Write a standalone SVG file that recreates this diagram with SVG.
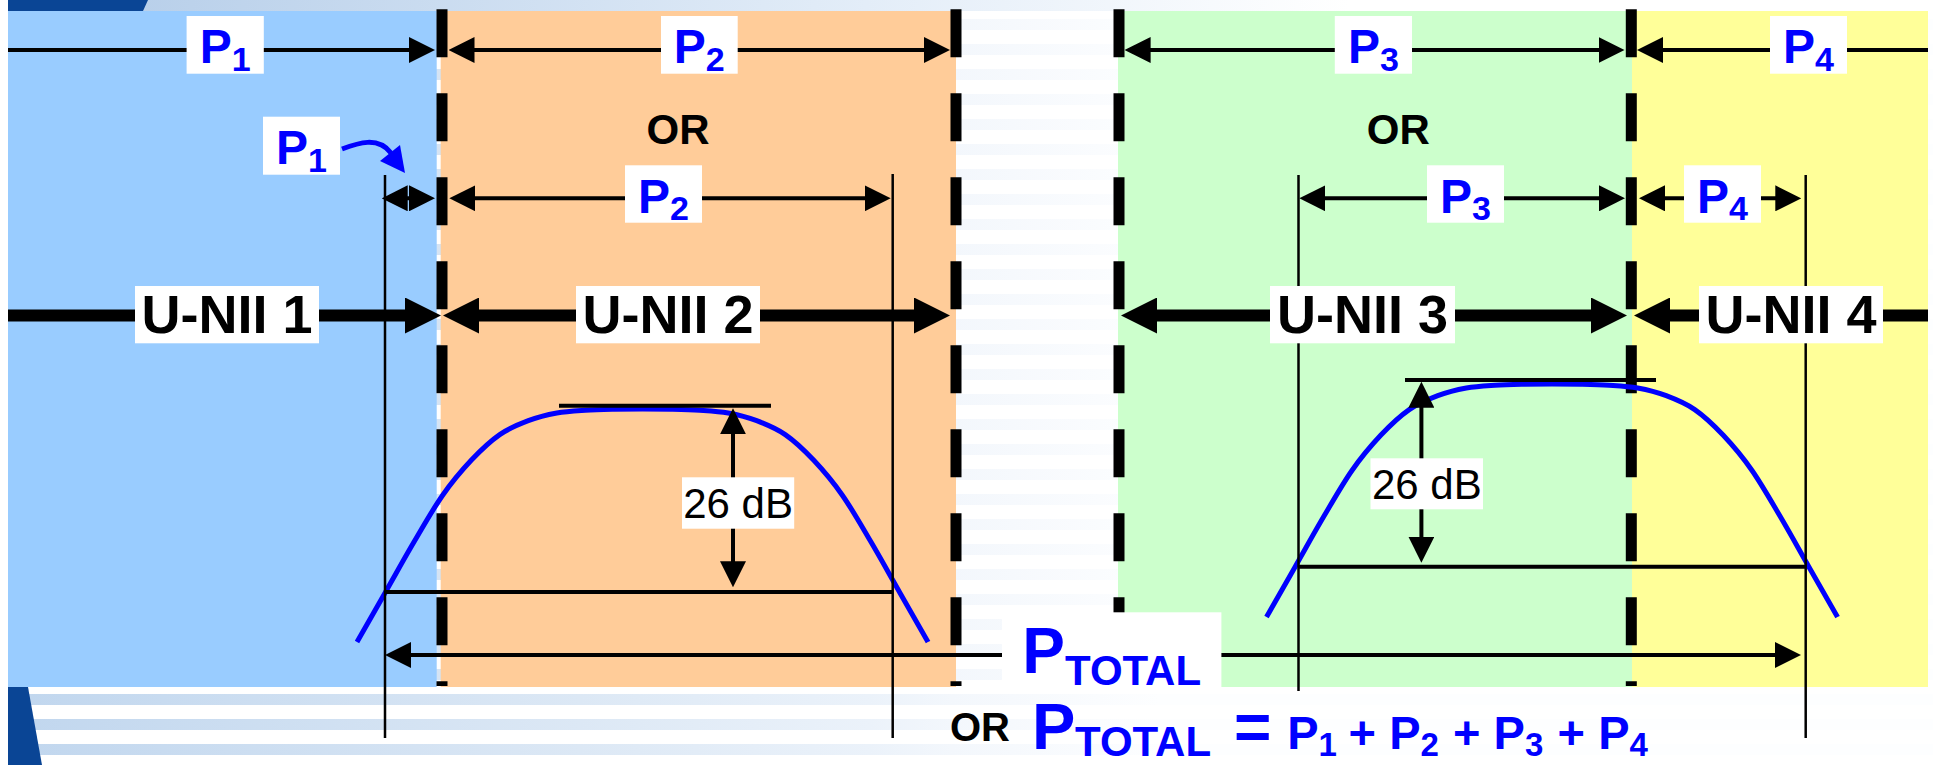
<svg xmlns="http://www.w3.org/2000/svg" width="1933" height="765" viewBox="0 0 1933 765">
<defs>
<style>
.lbl{font-family:"Liberation Sans",Arial,Helvetica,sans-serif;font-weight:bold;fill:#000}
.reg{font-family:"Liberation Sans",Arial,Helvetica,sans-serif;font-weight:normal;fill:#000}
.blue{fill:#0000FF}
.box{fill:#FFFFFF}
.thin{stroke:#000;stroke-width:4;fill:none}
.thick{stroke:#000;stroke-width:12;fill:none}
.ext{stroke:#000;stroke-width:2.5;fill:none}
.div{stroke:#000;stroke-width:11;stroke-dasharray:48 36;fill:none}
.curve{stroke:#0000FF;stroke-width:5;fill:none}
</style>
<marker id="a" viewBox="0 0 26 26" refX="16" refY="13" markerWidth="26" markerHeight="26" markerUnits="userSpaceOnUse" orient="auto-start-reverse"><path d="M0,0L26,13L0,26z" fill="#000"/></marker>
<marker id="A" viewBox="0 0 36 36" refX="22" refY="18" markerWidth="36" markerHeight="36" markerUnits="userSpaceOnUse" orient="auto-start-reverse"><path d="M0,0L36,18L0,36z" fill="#000"/></marker>
<linearGradient id="topg" gradientUnits="userSpaceOnUse" x1="140" y1="0" x2="1350" y2="0">
<stop offset="0" stop-color="#b9d0ea"/><stop offset="0.6" stop-color="#e3edf8"/><stop offset="1" stop-color="#ffffff"/>
</linearGradient>
<linearGradient id="strg" gradientUnits="userSpaceOnUse" x1="0" y1="0" x2="1160" y2="0">
<stop offset="0" stop-color="#c0d6ee"/><stop offset="0.5" stop-color="#dce8f5"/><stop offset="0.75" stop-color="#ebf2fa"/><stop offset="0.82" stop-color="#f3f7fc"/><stop offset="1" stop-color="#fdfeff"/>
</linearGradient>
<pattern id="stripes" patternUnits="userSpaceOnUse" x="0" y="19" width="1933" height="25">
<rect x="0" y="0" width="1933" height="11" fill="url(#strg)"/>
</pattern>
<path id="mask" d="M357,642 C366.5,625.3 376,608.6 385.55,591.9 C395.1,575.2 404.6,557.9 414.1,541.8 C423.6,525.7 433.1,508.8 442.65,495.2 C452.2,481.6 461.7,470.4 471.2,460.3 C480.7,450.2 490.2,441.2 499.75,434.6 C509.3,428 518.8,424.3 528.3,420.7 C537.8,417.1 547.3,414.75 556.85,413 C566.4,411.25 575.9,410.83 585.4,410.2 C594.9,409.57 604.4,409.4 613.95,409.2 C623.5,409 633,409 642.5,409 C652,409 661.5,409 671.05,409.2 C680.6,409.4 690.1,409.57 699.6,410.2 C709.1,410.83 718.6,411.25 728.15,413 C737.7,414.75 747.2,417.1 756.7,420.7 C766.2,424.3 775.7,428 785.25,434.6 C794.8,441.2 804.3,450.2 813.8,460.3 C823.3,470.4 832.8,481.6 842.35,495.2 C851.9,508.8 861.4,525.7 870.9,541.8 C880.4,557.9 889.9,575.2 899.45,591.9 C909,608.6 918.5,625.3 928,642"/>
</defs>

<g id="background">
<rect x="0" y="0" width="1933" height="765" fill="#FFFFFF"/>
<rect x="0" y="0" width="1933" height="765" fill="url(#stripes)"/>
<rect x="8" y="0" width="1925" height="11" fill="url(#topg)"/>
<polygon points="8,0 148,0 143,11 8,11" fill="#0a4595"/>
<polygon points="8,687 28,687 42,765 8,765" fill="#0a4595"/>
<rect x="0" y="0" width="8" height="765" fill="#FFFFFF"/>
</g>

<g id="bands">
<rect x="8" y="11" width="428.7" height="676" fill="#99CCFF"/>
<rect x="440.7" y="11" width="515.3" height="676" fill="#FFCC99"/>
<rect x="1118" y="11" width="514" height="676" fill="#CCFFCC"/>
<rect x="1632" y="11" width="296" height="676" fill="#FFFF99"/>
</g>

<g id="band-edges">
<line class="div" x1="442" y1="9.3" x2="442" y2="686"/>
<line class="div" x1="956" y1="9.3" x2="956" y2="686"/>
<line class="div" x1="1119" y1="9.3" x2="1119" y2="686"/>
<line class="div" x1="1631.3" y1="9.3" x2="1631.3" y2="686"/>
</g>

<g id="spectrum">
<use href="#mask" class="curve"/>
<use href="#mask" class="curve" transform="translate(909.5,-25)"/>
</g>

<g id="connectors">
<line class="ext" x1="385" y1="175" x2="385" y2="738"/>
<line class="ext" x1="892.7" y1="174" x2="892.7" y2="738"/>
<line class="ext" x1="1298.5" y1="175" x2="1298.5" y2="691"/>
<line class="ext" x1="1805.7" y1="175" x2="1805.7" y2="738"/>
<line class="thin" x1="559" y1="405.7" x2="771" y2="405.7"/>
<line class="thin" x1="385" y1="592" x2="892.7" y2="592"/>
<line class="thin" x1="1405" y1="380" x2="1656" y2="380"/>
<line class="thin" x1="1298.5" y1="566.7" x2="1805.7" y2="566.7"/>
<line class="thin" x1="8" y1="50" x2="425" y2="50" marker-end="url(#a)"/>
<line class="thin" x1="458.5" y1="50" x2="940" y2="50" marker-start="url(#a)" marker-end="url(#a)"/>
<line class="thin" x1="1134.6" y1="50" x2="1614.5" y2="50" marker-start="url(#a)" marker-end="url(#a)"/>
<line class="thin" x1="1647" y1="50" x2="1928" y2="50" marker-start="url(#a)"/>
<line class="thin" x1="391.7" y1="198.3" x2="425" y2="198.3" marker-start="url(#a)" marker-end="url(#a)"/>
<line class="thin" x1="459.3" y1="198.3" x2="880.7" y2="198.3" marker-start="url(#a)" marker-end="url(#a)"/>
<line class="thin" x1="1309.3" y1="198.3" x2="1615" y2="198.3" marker-start="url(#a)" marker-end="url(#a)"/>
<line class="thin" x1="1649" y1="198.3" x2="1791.3" y2="198.3" marker-start="url(#a)" marker-end="url(#a)"/>
<line class="thick" x1="8" y1="315.5" x2="427" y2="315.5" marker-end="url(#A)"/>
<line class="thick" x1="457" y1="315.5" x2="936" y2="315.5" marker-start="url(#A)" marker-end="url(#A)"/>
<line class="thick" x1="1135" y1="315.5" x2="1613" y2="315.5" marker-start="url(#A)" marker-end="url(#A)"/>
<line class="thick" x1="1648" y1="315.5" x2="1928" y2="315.5" marker-start="url(#A)"/>
<line class="thin" x1="733" y1="418.3" x2="733" y2="577.3" marker-start="url(#a)" marker-end="url(#a)"/>
<line class="thin" x1="1421.4" y1="391.7" x2="1421.4" y2="552.7" marker-start="url(#a)" marker-end="url(#a)"/>
<line class="thin" x1="395" y1="655" x2="1791" y2="655" marker-start="url(#a)" marker-end="url(#a)"/>
<path d="M342,149 C358,143 378,136 391,153" stroke="#0000FF" stroke-width="5" fill="none"/>
<polygon points="405,173 380,161 400,145" fill="#0000FF"/>
</g>

<g id="p1-top"><rect class="box" x="186.6" y="16" width="77.2" height="57.7"/><text class="lbl blue" x="225.2" y="63.3" text-anchor="middle" font-size="48">P<tspan font-size="34" dy="7.7">1</tspan></text></g>
<g id="p2-top"><rect class="box" x="661" y="16" width="76.7" height="57.7"/><text class="lbl blue" x="699.3" y="63.3" text-anchor="middle" font-size="48">P<tspan font-size="34" dy="7.7">2</tspan></text></g>
<g id="p3-top"><rect class="box" x="1334.8" y="16" width="77.2" height="57.7"/><text class="lbl blue" x="1373.4" y="63.3" text-anchor="middle" font-size="48">P<tspan font-size="34" dy="7.7">3</tspan></text></g>
<g id="p4-top"><rect class="box" x="1770" y="16" width="77" height="57.7"/><text class="lbl blue" x="1808.5" y="63.3" text-anchor="middle" font-size="48">P<tspan font-size="34" dy="7.7">4</tspan></text></g>

<g id="or-left"><text class="lbl" x="678" y="144" text-anchor="middle" font-size="42">OR</text></g>
<g id="or-right"><text class="lbl" x="1398.3" y="144" text-anchor="middle" font-size="42">OR</text></g>

<g id="p1-mid"><rect class="box" x="263" y="116.7" width="77" height="58"/><text class="lbl blue" x="301.5" y="164" text-anchor="middle" font-size="48">P<tspan font-size="34" dy="7.7">1</tspan></text></g>
<g id="p2-mid"><rect class="box" x="625" y="165.3" width="77" height="57.4"/><text class="lbl blue" x="663.5" y="212.6" text-anchor="middle" font-size="48">P<tspan font-size="34" dy="7.7">2</tspan></text></g>
<g id="p3-mid"><rect class="box" x="1427" y="165.3" width="77" height="57.4"/><text class="lbl blue" x="1465.5" y="212.6" text-anchor="middle" font-size="48">P<tspan font-size="34" dy="7.7">3</tspan></text></g>
<g id="p4-mid"><rect class="box" x="1684" y="165.3" width="77" height="57.4"/><text class="lbl blue" x="1722.5" y="212.6" text-anchor="middle" font-size="48">P<tspan font-size="34" dy="7.7">4</tspan></text></g>

<g id="unii-1"><rect class="box" x="135" y="286" width="184" height="57.3"/><text class="lbl" x="227" y="333" text-anchor="middle" font-size="54">U-NII 1</text></g>
<g id="unii-2"><rect class="box" x="576" y="286" width="184" height="57.3"/><text class="lbl" x="668" y="333" text-anchor="middle" font-size="54">U-NII 2</text></g>
<g id="unii-3"><rect class="box" x="1270" y="286" width="185" height="57.3"/><text class="lbl" x="1362.5" y="333" text-anchor="middle" font-size="54">U-NII 3</text></g>
<g id="unii-4"><rect class="box" x="1699" y="286" width="184" height="57.3"/><text class="lbl" x="1791" y="333" text-anchor="middle" font-size="54">U-NII 4</text></g>

<g id="db-left"><rect class="box" x="682" y="477.3" width="112.2" height="51.4"/><text class="reg" x="738.1" y="518.3" text-anchor="middle" font-size="42">26 dB</text></g>
<g id="db-right"><rect class="box" x="1370.5" y="458.3" width="112.5" height="51"/><text class="reg" x="1426.8" y="499.3" text-anchor="middle" font-size="42">26 dB</text></g>

<g id="ptotal"><rect class="box" x="1002" y="612.3" width="219.4" height="78"/><text class="lbl blue" x="1111.7" y="673.3" text-anchor="middle" font-size="64">P<tspan font-size="42" dy="11.7">TOTAL</tspan></text></g>

<g id="formula">
<text class="lbl" x="980" y="741" text-anchor="middle" font-size="40">OR</text>
<text class="lbl blue" y="749"><tspan x="1032" y="749" font-size="65">P</tspan><tspan x="1075" y="756" font-size="42">TOTAL</tspan><tspan x="1234" y="749" font-size="64">=</tspan><tspan x="1287.3" y="749" font-size="47">P</tspan><tspan x="1318.6" y="756" font-size="33">1</tspan><tspan x="1348.4" y="749" font-size="47">+</tspan><tspan x="1389.3" y="749" font-size="47">P</tspan><tspan x="1420.6" y="756" font-size="33">2</tspan><tspan x="1453" y="749" font-size="47">+</tspan><tspan x="1493.6" y="749" font-size="47">P</tspan><tspan x="1524.9" y="756" font-size="33">3</tspan><tspan x="1557.4" y="749" font-size="47">+</tspan><tspan x="1598.3" y="749" font-size="47">P</tspan><tspan x="1629.6" y="756" font-size="33">4</tspan></text>
</g>
</svg>
